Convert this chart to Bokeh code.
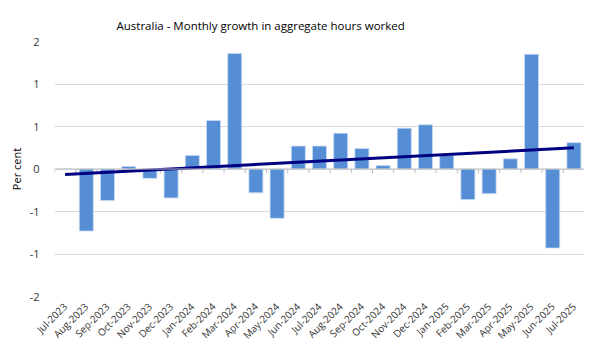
import math
import numpy as np
from bokeh.plotting import figure
from bokeh.models import Range1d, FixedTicker, Span, Title
from bokeh.embed import file_html
from bokeh.resources import INLINE

months = ["Jul-2023", "Aug-2023", "Sep-2023", "Oct-2023", "Nov-2023", "Dec-2023",
          "Jan-2024", "Feb-2024", "Mar-2024", "Apr-2024", "May-2024", "Jun-2024",
          "Jul-2024", "Aug-2024", "Sep-2024", "Oct-2024", "Nov-2024", "Dec-2024",
          "Jan-2025", "Feb-2025", "Mar-2025", "Apr-2025", "May-2025", "Jun-2025",
          "Jul-2025"]
growth = [0.0, -0.73, -0.37, 0.03, -0.11, -0.34, 0.16, 0.57, 1.36, -0.28, -0.58, 0.27,
          0.27, 0.42, 0.24, 0.04, 0.48, 0.52, 0.16, -0.36, -0.29, 0.12, 1.35, -0.93,
          0.31]
y_ticks = [-1.5, -1.0, -0.5, 0.0, 0.5, 1.0, 1.5]
y_tick_labels = ["-2", "-1", "-1", "0", "1", "1", "2"]

n = len(months)
xs = [i + 0.5 for i in range(n)]

p = figure(frame_width=530, frame_height=255, output_backend="svg", toolbar_location=None,
           x_range=Range1d(0, n), y_range=Range1d(-1.5, 1.5),
           min_border_left=54, min_border_right=0, min_border_top=41,
           min_border_bottom=49)
p.outline_line_color = None
p.background_fill_color = "white"
p.border_fill_color = "white"

p.add_layout(Title(text="Australia - Monthly growth in aggregate hours worked",
                   align="left", offset=62, standoff=18, text_font_size="11.5px",
                   text_font="Open Sans", text_font_style="normal",
                   text_color="#000000"), "above")

p.xgrid.grid_line_color = None
p.ygrid.ticker = FixedTicker(ticks=y_ticks)
p.ygrid.grid_line_color = "#d9d9d9"
p.ygrid.grid_line_width = 1

p.yaxis.ticker = FixedTicker(ticks=y_ticks)
p.yaxis.major_label_overrides = {t: l for t, l in zip(y_ticks, y_tick_labels)}
p.yaxis.axis_line_color = None
p.yaxis.major_tick_line_color = None
p.yaxis.minor_tick_line_color = None
p.yaxis.major_label_standoff = 9
p.yaxis.major_label_text_font = "Open Sans"
p.yaxis.major_label_text_font_size = "11px"
p.yaxis.major_label_text_color = "#333333"
p.yaxis.axis_label = "Per cent"
p.yaxis.axis_label_text_font = "Open Sans"
p.yaxis.axis_label_text_font_size = "11px"
p.yaxis.axis_label_text_font_style = "normal"
p.yaxis.axis_label_text_color = "#000000"
p.yaxis.axis_label_standoff = 3

p.xaxis.ticker = FixedTicker(ticks=xs)
p.xaxis.major_label_overrides = {x: m for x, m in zip(xs, months)}
p.xaxis.major_label_orientation = math.pi / 4
p.xaxis.axis_line_color = None
p.xaxis.major_tick_line_color = None
p.xaxis.minor_tick_line_color = None
p.xaxis.major_label_standoff = 2
p.xaxis.major_label_text_font = "Open Sans"
p.xaxis.major_label_text_font_size = "10px"
p.xaxis.major_label_text_color = "#333333"

p.add_layout(Span(location=0, dimension="width", line_color="#bfbfbf", line_width=1))
bounds = list(range(n + 1))
p.segment(x0=bounds, y0=[0] * len(bounds), x1=bounds, y1=[-0.05] * len(bounds),
          line_color="#bfbfbf", line_width=1)

p.vbar(x=xs, top=growth, bottom=0, width=0.66, fill_color="#558ed5",
       line_color="#c6d9f1", line_width=0.8)

slope, intercept = np.polyfit(np.array(xs), np.array(growth), 1)
tx = [xs[0], xs[-1]]
p.line(x=tx, y=[slope * x + intercept for x in tx], line_color="#000080", line_width=3)

open("out.html", "w").write(file_html(p, INLINE))
